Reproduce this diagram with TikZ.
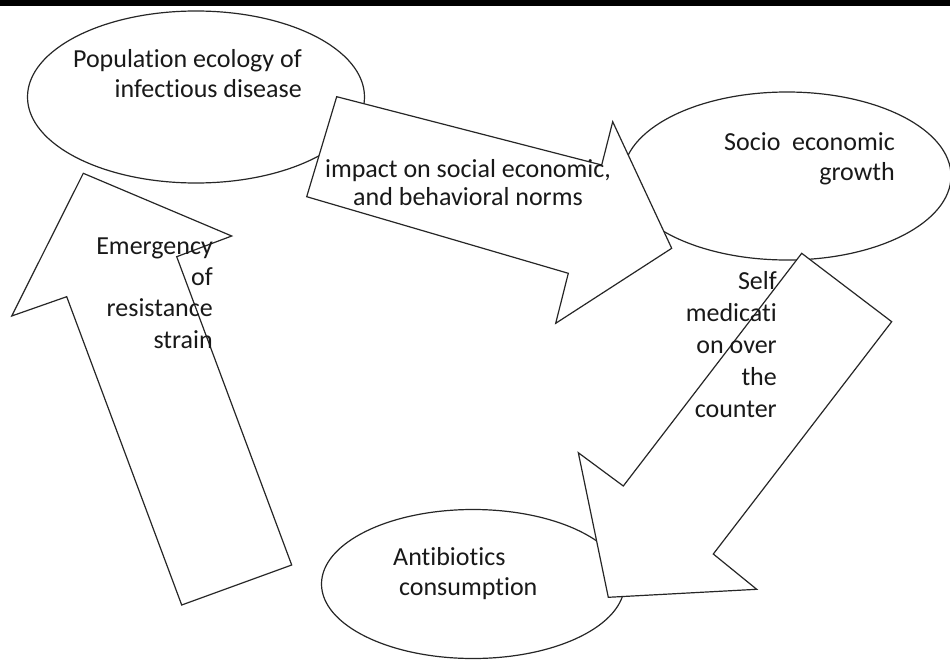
\documentclass[tikz,border=0pt]{standalone}
\usepackage{fontspec}
\setmainfont{Carlito}[Ligatures=NoCommon]
\usepackage{tikz}
\usetikzlibrary{shapes.geometric,positioning}

\tikzset{
	bubble/.style={ellipse, draw=black!85, line width=1.2pt, fill=white, inner sep=0pt},
	bigarrow/.style={draw=black!85, line width=1.2pt, fill=white, line join=miter},
	txt/.style={font=\fontsize{26}{30}\selectfont, inner sep=0pt, text=black!90}
}

\begin{document}
\begin{tikzpicture}[x=1pt,y=-1pt]
	\useasboundingbox (0,0) rectangle (950,661);
	\fill (0,0) rectangle (950,6);
	% the three ellipses
	\node[bubble, minimum width=337pt, minimum height=172pt] (popeco) at (196,97) {};
	\node[bubble, minimum width=328pt, minimum height=168pt] (socio) at (787,176) {};
	\node[bubble, minimum width=303pt, minimum height=149pt] (antib) at (473,584) {};
	% block arrows
	\draw [bigarrow] (336.7,96.7) -- (601.7,165) -- (612.7,121.7) -- (671.7,248.3) -- (555.7,323.3) -- (568.3,273.3) -- (306.7,196.7) -- cycle;
	\draw [bigarrow] (801.7,253.3) -- (891.7,321.7) -- (713.3,554) -- (756.7,589.3) -- (608.3,597.3) -- (578.3,452.7) -- (623.3,486) -- cycle;
	\draw [bigarrow] (83.3,173.3) -- (231.7,236) -- (176.7,256.7) -- (291.7,565) -- (181.7,605) -- (66.7,296.7) -- (11.7,316) -- cycle;
	% texts (base = last line)
	\node [txt, align=right, anchor=base east] (popeco text) at (302,97) {Population ecology of\\infectious disease};
	\node [txt, align=right, anchor=base east] (socio text) at (895,180) {Socio\ \ economic\\growth};
	\node [txt, align=left, anchor=base west] (antib text) at (393,595) {Antibiotics\\\ consumption};
	\node [txt, align=center, anchor=base, font=\fontsize{26}{28}\selectfont] (impact text) at (468,205) {impact on social economic,\\and behavioral norms};
	\node [txt, align=right, anchor=base east, font=\fontsize{26}{31.3}\selectfont] (emerg text) at (213,348) {Emergency\\of\\resistance\\strain};
	\node [txt, align=right, anchor=base east, font=\fontsize{26}{31.8}\selectfont] (self text) at (777,417) {Self\\medicati\\on over\\the\\counter};
\end{tikzpicture}
\end{document}
